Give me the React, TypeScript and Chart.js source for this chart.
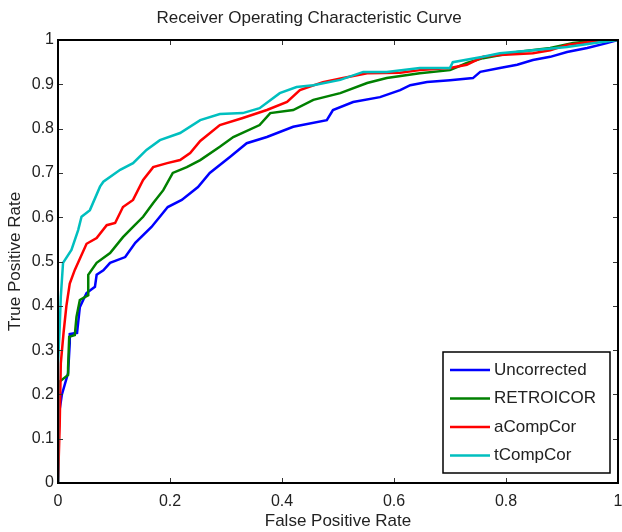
import React, { useEffect, useRef } from "react";
import { Chart, registerables } from "chart.js";

Chart.register(...registerables);

const chartTitle = "Receiver Operating Characteristic Curve";
const xAxisLabel = "False Positive Rate";
const yAxisLabel = "True Positive Rate";

const seriesNames = ["Uncorrected", "RETROICOR", "aCompCor", "tCompCor"];
const seriesColors = ["#0000ff", "#008000", "#ff0000", "#00bfbf"];

const uncorrectedFpr = [0, 0.002, 0.007, 0.018, 0.021, 0.021, 0.034, 0.039, 0.045, 0.051, 0.066, 0.069, 0.081, 0.093, 0.12, 0.138, 0.167, 0.196, 0.221, 0.25, 0.271, 0.307, 0.337, 0.373, 0.42, 0.48, 0.491, 0.527, 0.575, 0.611, 0.629, 0.659, 0.7, 0.741, 0.754, 0.789, 0.82, 0.848, 0.879, 0.909, 0.945, 0.98, 1];
const uncorrectedTpr = [0, 0.158, 0.2, 0.248, 0.316, 0.336, 0.339, 0.397, 0.413, 0.429, 0.443, 0.47, 0.48, 0.497, 0.51, 0.542, 0.578, 0.623, 0.639, 0.668, 0.7, 0.736, 0.767, 0.781, 0.804, 0.819, 0.842, 0.86, 0.871, 0.887, 0.898, 0.905, 0.909, 0.914, 0.928, 0.937, 0.944, 0.955, 0.962, 0.973, 0.982, 0.993, 1];

const retroicorFpr = [0, 0, 0.003, 0.018, 0.018, 0.02, 0.03, 0.033, 0.039, 0.054, 0.054, 0.069, 0.093, 0.116, 0.134, 0.152, 0.17, 0.188, 0.205, 0.23, 0.254, 0.289, 0.313, 0.36, 0.379, 0.42, 0.456, 0.504, 0.552, 0.587, 0.646, 0.7, 0.73, 0.759, 0.82, 0.879, 0.92, 0.968, 1];
const retroicorTpr = [0, 0.09, 0.229, 0.244, 0.26, 0.33, 0.334, 0.375, 0.413, 0.424, 0.47, 0.497, 0.519, 0.555, 0.578, 0.601, 0.632, 0.661, 0.7, 0.713, 0.729, 0.759, 0.781, 0.808, 0.835, 0.842, 0.865, 0.88, 0.903, 0.914, 0.925, 0.932, 0.948, 0.959, 0.973, 0.982, 0.993, 1, 1];

const aCompCorFpr = [0, 0.003, 0.005, 0.01, 0.015, 0.021, 0.03, 0.051, 0.069, 0.087, 0.102, 0.116, 0.134, 0.152, 0.17, 0.195, 0.218, 0.236, 0.254, 0.289, 0.33, 0.373, 0.409, 0.432, 0.473, 0.509, 0.552, 0.611, 0.646, 0.7, 0.73, 0.759, 0.789, 0.848, 0.879, 0.909, 0.945, 0.968, 1];
const aCompCorTpr = [0, 0.13, 0.27, 0.34, 0.4, 0.45, 0.481, 0.54, 0.553, 0.582, 0.587, 0.623, 0.639, 0.684, 0.713, 0.722, 0.729, 0.745, 0.772, 0.808, 0.824, 0.842, 0.86, 0.887, 0.905, 0.914, 0.925, 0.926, 0.932, 0.937, 0.944, 0.962, 0.966, 0.97, 0.977, 0.989, 0.995, 1, 1];

const tCompCorFpr = [0, 0, 0.003, 0.005, 0.009, 0.024, 0.036, 0.042, 0.057, 0.075, 0.081, 0.111, 0.134, 0.158, 0.182, 0.218, 0.254, 0.289, 0.33, 0.36, 0.396, 0.426, 0.456, 0.504, 0.545, 0.587, 0.646, 0.7, 0.705, 0.759, 0.789, 0.848, 0.909, 0.968, 1];
const tCompCorTpr = [0, 0.27, 0.35, 0.42, 0.497, 0.526, 0.571, 0.601, 0.616, 0.669, 0.68, 0.707, 0.722, 0.752, 0.774, 0.79, 0.819, 0.833, 0.835, 0.846, 0.88, 0.894, 0.898, 0.91, 0.928, 0.928, 0.937, 0.937, 0.95, 0.962, 0.97, 0.977, 0.984, 0.995, 1];

const xTickValues = [0, 0.2, 0.4, 0.6, 0.8, 1];
const xTickLabels = ["0", "0.2", "0.4", "0.6", "0.8", "1"];
const yTickValues = [0, 0.1, 0.2, 0.3, 0.4, 0.5, 0.6, 0.7, 0.8, 0.9, 1];
const yTickLabels = ["0", "0.1", "0.2", "0.3", "0.4", "0.5", "0.6", "0.7", "0.8", "0.9", "1"];

const seriesFpr = [uncorrectedFpr, retroicorFpr, aCompCorFpr, tCompCorFpr];
const seriesTpr = [uncorrectedTpr, retroicorTpr, aCompCorTpr, tCompCorTpr];

const FONT = "'Liberation Sans', Arial, Helvetica, sans-serif";
const TEXT_COLOR = "#222222";

const framePlugin = {
  id: "matlabFrame",
  afterDraw(chart: any) {
    const { ctx, chartArea, scales } = chart;
    const { left, top, right, bottom } = chartArea;
    const xs = scales.x;
    const ys = scales.y;
    ctx.save();
    ctx.strokeStyle = "#333333";
    ctx.lineWidth = 1;
    const tl = 5;
    ctx.beginPath();
    for (const v of xTickValues) {
      const px = Math.round(xs.getPixelForValue(v)) + 0.5;
      ctx.moveTo(px, bottom);
      ctx.lineTo(px, bottom - tl);
      ctx.moveTo(px, top);
      ctx.lineTo(px, top + tl);
    }
    for (const v of yTickValues) {
      const py = Math.round(ys.getPixelForValue(v)) + 0.5;
      ctx.moveTo(left, py);
      ctx.lineTo(left + tl, py);
      ctx.moveTo(right, py);
      ctx.lineTo(right - tl, py);
    }
    ctx.stroke();
    ctx.strokeStyle = "#000000";
    ctx.lineWidth = 2;
    ctx.strokeRect(left, top, right - left, bottom - top);

    const bw = 167;
    const bh = 121;
    const bx = right - 8 - bw;
    const by = bottom - 10 - bh;
    ctx.fillStyle = "#ffffff";
    ctx.fillRect(bx, by, bw, bh);
    ctx.strokeStyle = "#000000";
    ctx.lineWidth = 1.5;
    ctx.strokeRect(bx, by, bw, bh);
    ctx.font = `17px ${FONT}`;
    ctx.textBaseline = "middle";
    ctx.textAlign = "left";
    chart.data.datasets.forEach((ds: any, i: number) => {
      const iy = by + 18 + i * 28.5;
      ctx.strokeStyle = ds.borderColor;
      ctx.lineWidth = 2.5;
      ctx.beginPath();
      ctx.moveTo(bx + 7, iy);
      ctx.lineTo(bx + 47, iy);
      ctx.stroke();
      ctx.fillStyle = TEXT_COLOR;
      ctx.fillText(ds.label, bx + 51, iy);
    });
    ctx.restore();
  },
};

export default function App() {
  const canvasRef = useRef<HTMLCanvasElement | null>(null);

  useEffect(() => {
    if (!canvasRef.current) return;
    const datasets = seriesNames.map((name, i) => ({
      label: name,
      data: seriesFpr[i].map((x, j) => ({ x, y: seriesTpr[i][j] })),
      borderColor: seriesColors[i],
      backgroundColor: seriesColors[i],
      borderWidth: 2.5,
      pointRadius: 0,
      tension: 0,
      fill: false,
      order: seriesNames.length - i,
    }));
    const chart = new Chart(canvasRef.current, {
      type: "line",
      data: { datasets },
      options: {
        responsive: false,
        animation: false,
        layout: { padding: { left: 0, right: 4, top: 0, bottom: 0 } },
        plugins: {
          legend: { display: false },
          tooltip: { enabled: false },
          title: {
            display: true,
            text: chartTitle,
            color: TEXT_COLOR,
            font: { family: FONT, size: 17, weight: "normal" },
            padding: { top: 8, bottom: 11.6 },
          },
        },
        scales: {
          x: {
            type: "linear",
            min: 0,
            max: 1,
            grid: { display: false, drawTicks: false },
            border: { display: false },
            afterBuildTicks: (s: any) => {
              s.ticks = xTickValues.map((v) => ({ value: v }));
            },
            afterFit: (s: any) => {
              s.height = 49;
              s.paddingLeft = 0;
              s.paddingRight = 0;
            },
            ticks: {
              color: TEXT_COLOR,
              font: { family: FONT, size: 16 },
              padding: 9,
              maxRotation: 0,
              autoSkip: false,
              callback: (_v: any, idx: number) => xTickLabels[idx],
            },
            title: {
              display: true,
              text: xAxisLabel,
              color: TEXT_COLOR,
              font: { family: FONT, size: 17 },
              padding: { top: 0, bottom: 0 },
            },
          },
          y: {
            type: "linear",
            min: 0,
            max: 1,
            grid: { display: false, drawTicks: false },
            border: { display: false },
            afterBuildTicks: (s: any) => {
              s.ticks = yTickValues.map((v) => ({ value: v }));
            },
            afterFit: (s: any) => {
              s.width = 58;
              s.paddingTop = 0;
              s.paddingBottom = 0;
            },
            ticks: {
              color: TEXT_COLOR,
              font: { family: FONT, size: 16 },
              padding: 4,
              autoSkip: false,
              callback: (_v: any, idx: number) => yTickLabels[idx],
            },
            title: {
              display: true,
              text: yAxisLabel,
              color: TEXT_COLOR,
              font: { family: FONT, size: 17 },
              padding: { top: 5, bottom: 0 },
            },
          },
        },
      },
      plugins: [framePlugin],
    } as any);
    return () => chart.destroy();
  }, []);

  return (
    <div style={{ position: "absolute", left: 0, top: 0, width: 622, height: 532, background: "#ffffff" }}>
      <canvas ref={canvasRef} width={622} height={532} style={{ width: 622, height: 532, display: "block" }} />
    </div>
  );
}
